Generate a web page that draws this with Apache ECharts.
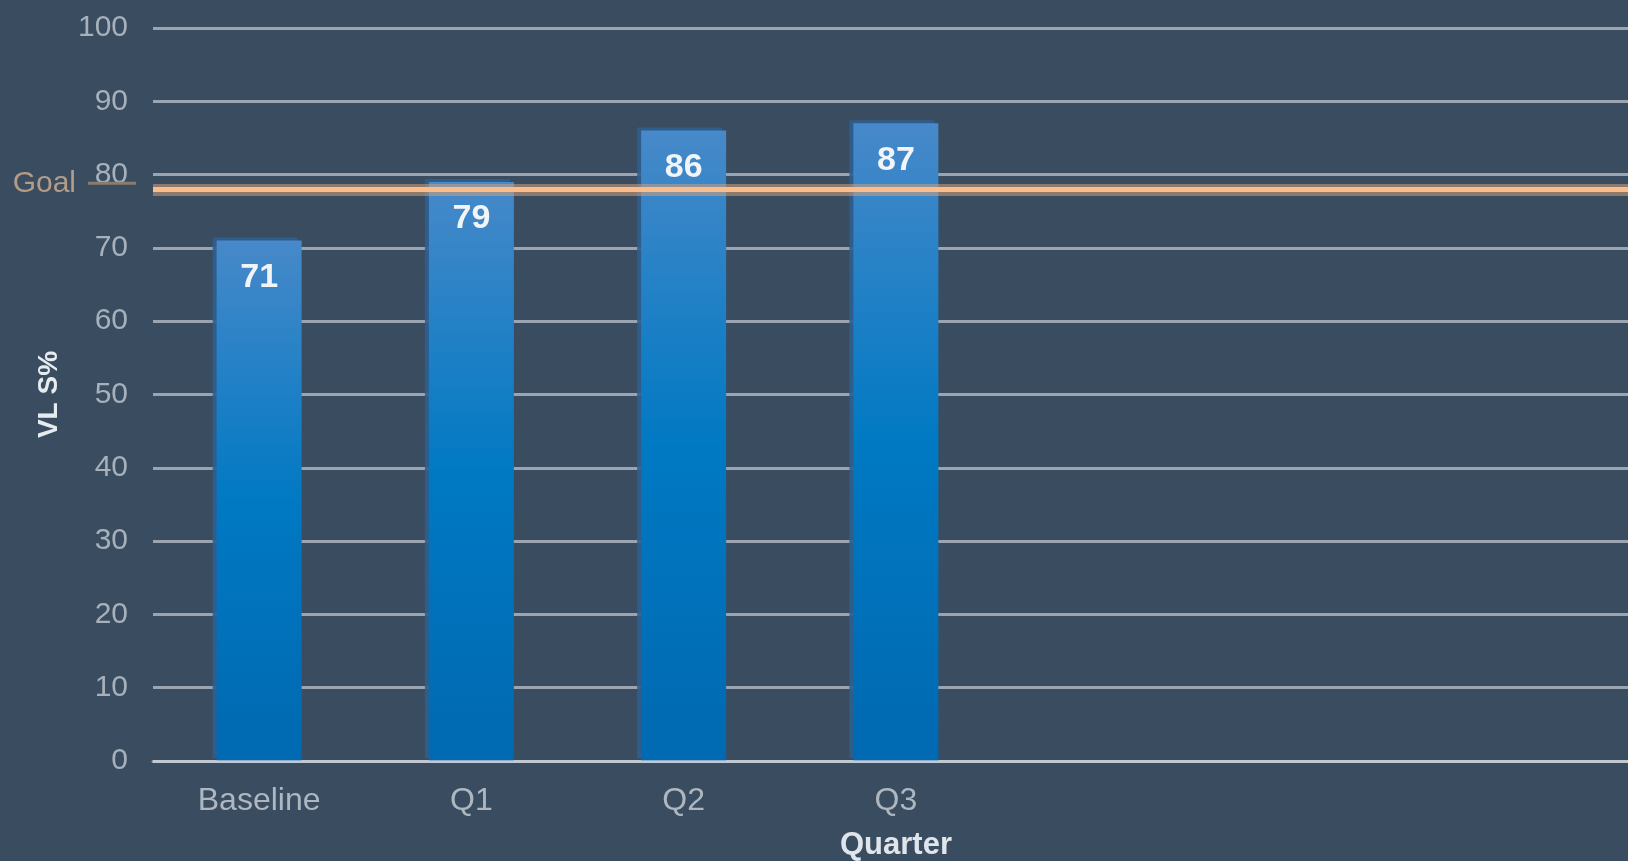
<!DOCTYPE html>
<html>
<head>
<meta charset="utf-8">
<title>VL S% by Quarter</title>
<script src="https://cdn.jsdelivr.net/npm/echarts@6/dist/echarts.min.js"></script>
<style>
  html, body { margin: 0; padding: 0; background: #394c60; }
  #chart { width: 1628px; height: 861px; }
</style>
</head>
<body>
<div id="chart"></div>
<script>
// Quarterly VL S% results against the programme goal
const categories = ['Baseline', 'Q1', 'Q2', 'Q3'];
const vlsValues = [71, 79, 86, 87];
const goalValue = 78;
const yMin = 0;
const yMax = 100;
const yInterval = 10;

const FONT = '"Liberation Sans", Arial, Helvetica, sans-serif';

const chart = echarts.init(document.getElementById('chart'), null, { renderer: 'canvas' });

chart.setOption({
  backgroundColor: '#394c60',
  animation: false,
  // the category band continues past the right edge, leaving room for later quarters
  grid: { left: 153, right: -223, top: 28, bottom: 100, containLabel: false, outerBoundsMode: 'none' },
  xAxis: {
    type: 'category',
    data: categories,
    max: 7,
    z: 5,
    name: 'Quarter',
    nameLocation: 'middle',
    nameGap: 69,
    nameTextStyle: {
      color: '#dfe5ea', fontFamily: FONT, fontSize: 31, fontWeight: 'bold',
      padding: [0, 212, 0, 0]
    },
    axisLine: { show: true, lineStyle: { color: 'rgba(220,224,231,0.6)', width: 3 } },
    axisTick: { show: false },
    splitLine: { show: false },
    axisLabel: {
      color: '#aeb7c0', fontFamily: FONT, fontSize: 32, margin: 24,
      formatter: function (v) { return categories.indexOf(v) >= 0 ? v : ''; }
    }
  },
  yAxis: {
    type: 'value',
    min: yMin,
    max: yMax,
    interval: yInterval,
    name: 'VL S%',
    nameLocation: 'middle',
    nameGap: 90,
    nameTextStyle: { color: '#e6ebf0', fontFamily: FONT, fontSize: 28, fontWeight: 'bold' },
    axisLine: { show: false },
    axisTick: { show: false },
    splitLine: { show: true, lineStyle: { color: '#9aa5b1', width: 3 } },
    axisLabel: { color: '#a7b1bb', fontFamily: FONT, fontSize: 30, margin: 25 }
  },
  series: [{
    type: 'bar',
    data: vlsValues,
    barWidth: 85,
    itemStyle: {
      color: new echarts.graphic.LinearGradient(0, 0, 0, 1, [
        { offset: 0, color: '#4789c9' },
        { offset: 0.5, color: '#0079c3' },
        { offset: 1, color: '#0069b1' }
      ]),
      shadowColor: 'rgba(45,95,145,0.9)',
      shadowOffsetX: -4,
      shadowOffsetY: -3
    },
    label: {
      show: true,
      position: 'insideTop',
      distance: 20,
      color: '#f2f5f8',
      fontFamily: FONT,
      fontSize: 34,
      fontWeight: 'bold'
    },
    markLine: {
      symbol: 'none',
      silent: true,
      z: 10,
      data: [
        {
          yAxis: goalValue,
          lineStyle: { color: 'rgba(214,160,120,0.55)', width: 12, type: 'solid' },
          label: {
            show: true,
            position: 'start',
            distance: 17,
            padding: [0, 0, 12, 0],
            formatter: '{t|Goal}{s|}{u|}',
            rich: {
              t: { color: '#b49c87', fontFamily: FONT, fontSize: 30 },
              s: { width: 12, height: 3 },
              u: { width: 48, height: 3, backgroundColor: '#8f7b6d', verticalAlign: 'middle' }
            }
          }
        },
        {
          yAxis: goalValue,
          lineStyle: { color: '#f9bd8e', width: 5, type: 'solid' },
          label: { show: false }
        }
      ]
    }
  }]
});
</script>
</body>
</html>
